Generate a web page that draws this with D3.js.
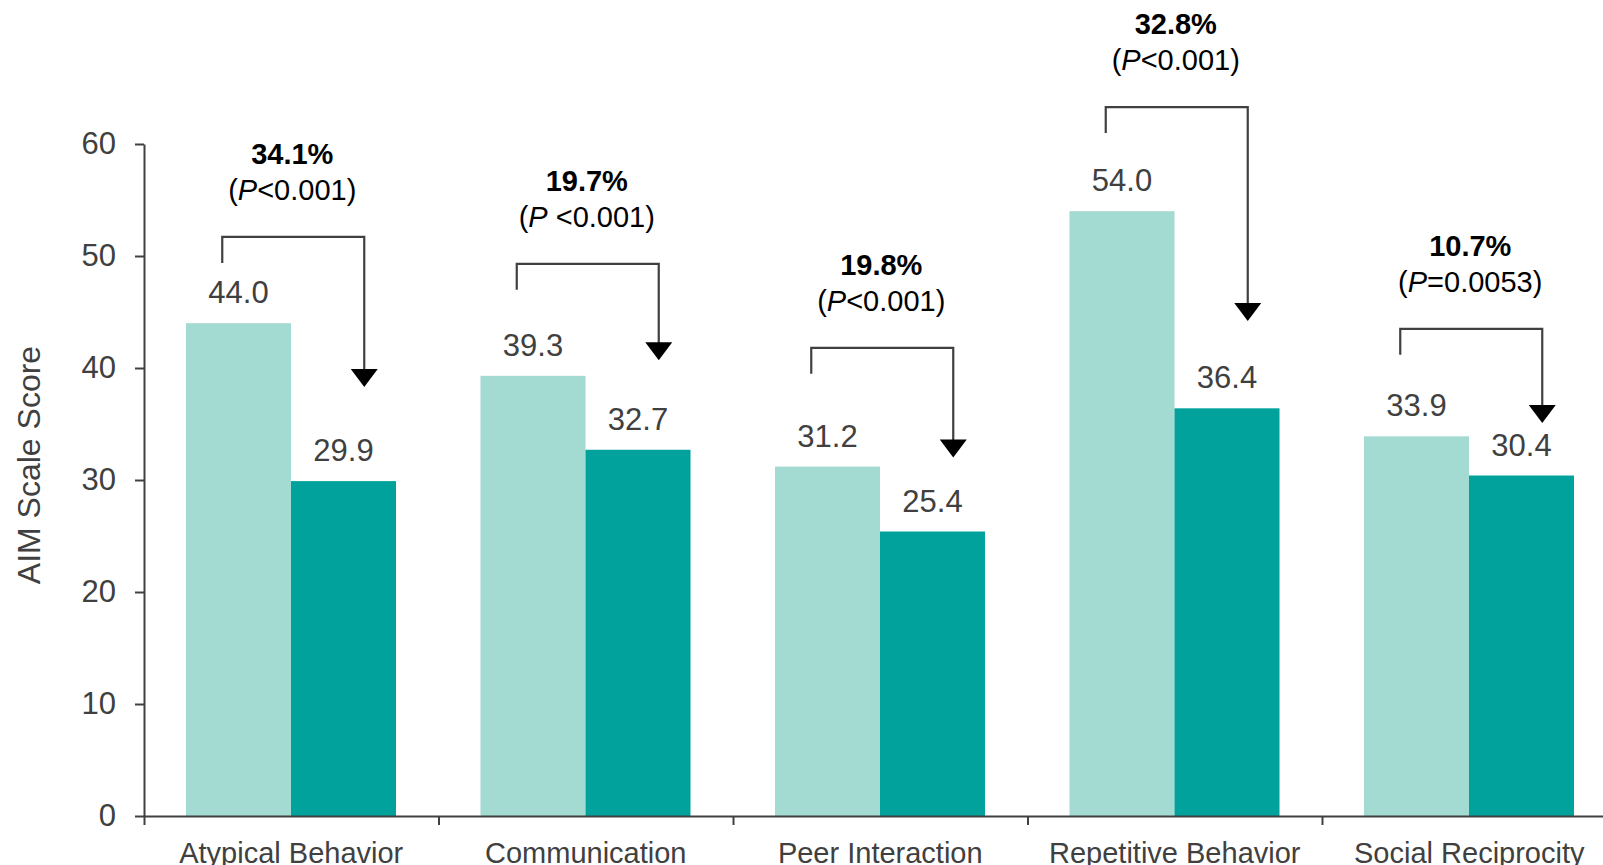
<!DOCTYPE html>
<html>
<head>
<script src="https://d3js.org/d3.v7.min.js"></script>
<style>
  body { margin: 0; background: #fff; }
  text { font-family: "Liberation Sans", Arial, sans-serif; }
</style>
</head>
<body>
<script>
// data
var categories = ["Atypical Behavior", "Communication", "Peer Interaction", "Repetitive Behavior", "Social Reciprocity"];
var before = [44.0, 39.3, 31.2, 54.0, 33.9];
var after = [29.9, 32.7, 25.4, 36.4, 30.4];
var pctChange = ["34.1%", "19.7%", "19.8%", "32.8%", "10.7%"];
var pRel = ["<0.001", " <0.001", "<0.001", "<0.001", "=0.0053"];
// bracket top and arrow tip, in scale-score units
var bracketTop = [51.7, 49.3, 41.8, 63.3, 43.5];
var arrowTip = [38.3, 40.7, 32.0, 44.2, 35.1];
var yTicks = [0, 10, 20, 30, 40, 50, 60];

var W = 1603, H = 865;
var mLeft = 144, mBottom = 816, mTop = 144;
var catW = 294.5;

var svg = d3.select("body").append("svg")
  .attr("width", W)
  .attr("height", H);

var x0 = d3.scaleBand().domain(categories).range([mLeft, mLeft + catW * categories.length]);
var x1 = d3.scaleBand().domain(["before", "after"]).range([42, catW - 42.5]);
var y = d3.scaleLinear().domain([0, 60]).range([mBottom, mTop]);

var colors = { before: "#a3dad1", after: "#00a29b" };

var rows = categories.map(function(c, i) {
  return { cat: c, before: before[i], after: after[i], pct: pctChange[i], p: pRel[i], top: bracketTop[i], tip: arrowTip[i] };
});

// bars
var g = svg.selectAll(".grp").data(rows).enter().append("g")
  .attr("transform", function(d) { return "translate(" + x0(d.cat) + ",0)"; });

["before", "after"].forEach(function(k) {
  g.append("rect")
    .attr("x", x1(k))
    .attr("width", x1.bandwidth())
    .attr("y", function(d) { return y(d[k]); })
    .attr("height", function(d) { return mBottom - y(d[k]); })
    .attr("fill", colors[k]);

  g.append("text")
    .attr("x", x1(k) + x1.bandwidth() / 2)
    .attr("y", function(d) { return y(d[k]) - 20; })
    .attr("text-anchor", "middle")
    .attr("font-size", 31)
    .attr("fill", "#404040")
    .text(function(d) { return d[k].toFixed(1); });
});

// brackets + arrows
g.each(function(d) {
  var sel = d3.select(this);
  var cx = catW / 2;
  var xl = cx - 69, xr = cx + 73;
  var yt = y(d.top), yb = y(d.tip);
  sel.append("path")
    .attr("d", "M" + xl + "," + (yt + 26) + "V" + yt + "H" + xr + "V" + (yb - 10))
    .attr("fill", "none")
    .attr("stroke", "#404040")
    .attr("stroke-width", 2.2);
  sel.append("path")
    .attr("d", "M" + (xr - 13.5) + "," + (yb - 18) + "H" + (xr + 13.5) + "L" + xr + "," + yb + "Z")
    .attr("fill", "#000");

  sel.append("text")
    .attr("x", cx + 1)
    .attr("y", yt - 73)
    .attr("text-anchor", "middle")
    .attr("font-size", 29)
    .attr("font-weight", "bold")
    .attr("fill", "#000")
    .text(d.pct);

  var t = sel.append("text")
    .attr("x", cx + 1)
    .attr("y", yt - 37)
    .attr("text-anchor", "middle")
    .attr("font-size", 29)
    .attr("fill", "#000");
  t.append("tspan").text("(");
  t.append("tspan").attr("font-style", "italic").text("P");
  t.append("tspan").text(d.p + ")");
});

// y axis
var yAxis = svg.append("g")
  .attr("transform", "translate(" + mLeft + ",0)")
  .call(d3.axisLeft(y).tickValues(yTicks).tickSize(9).tickSizeOuter(0).tickPadding(19));
yAxis.selectAll("text").attr("font-size", 31).attr("fill", "#404040").attr("font-family", null);
yAxis.selectAll("line, path").attr("stroke", "#404040").attr("stroke-width", 2);

// x axis: baseline + boundary ticks
var xb = d3.scaleLinear().domain([0, categories.length]).range([mLeft, mLeft + catW * categories.length]);
var xTickAxis = svg.append("g")
  .attr("transform", "translate(0," + mBottom + ")")
  .call(d3.axisBottom(xb).ticks(categories.length).tickFormat("").tickSize(9).tickSizeOuter(0));
xTickAxis.selectAll("line, path").attr("stroke", "#404040").attr("stroke-width", 2);

var xLab = svg.append("g")
  .attr("transform", "translate(0," + mBottom + ")")
  .call(d3.axisBottom(x0).tickSize(0).tickPadding(26));
xLab.select(".domain").remove();
xLab.selectAll("text").attr("font-size", 29).attr("fill", "#404040").attr("font-family", null);

// y title
svg.append("text")
  .attr("transform", "translate(40,465) rotate(-90)")
  .attr("text-anchor", "middle")
  .attr("font-size", 32)
  .attr("fill", "#404040")
  .text("AIM Scale Score");
</script>
</body>
</html>
